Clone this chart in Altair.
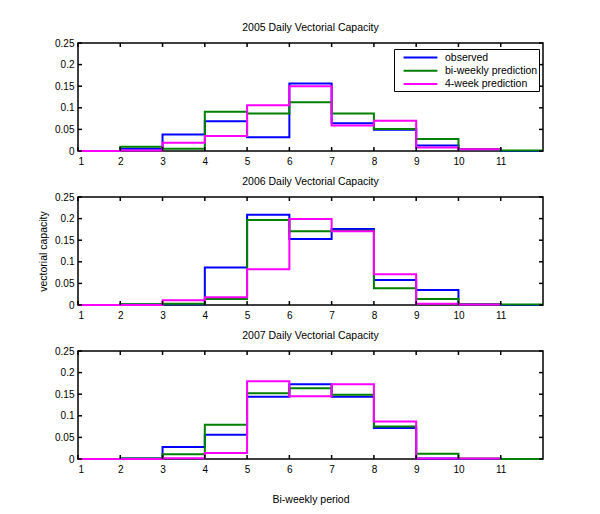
import altair as alt
import pandas as pd

FONT = "Liberation Sans"
series_names = ["observed", "bi-weekly prediction", "4-week prediction"]
series_colors = ["#0000ff", "#008000", "#ff00ff"]
x_ticks = [1, 2, 3, 4, 5, 6, 7, 8, 9, 10, 11]
y_ticks = [0, 0.05, 0.1, 0.15, 0.2, 0.25]
years = ["2005", "2006", "2007"]

# values per bi-weekly bin (bin i spans i .. i+1)
obs_2005 = [0.0, 0.005, 0.038, 0.069, 0.032, 0.156, 0.064, 0.049, 0.013, 0.004, 0.0]
bi_2005 = [0.0, 0.010, 0.005, 0.091, 0.087, 0.113, 0.087, 0.051, 0.028, 0.004, 0.001]
four_2005 = [0.0, 0.001, 0.019, 0.035, 0.106, 0.150, 0.059, 0.070, 0.008, 0.004]

obs_2006 = [0.0, 0.001, 0.002, 0.087, 0.209, 0.153, 0.176, 0.058, 0.035, 0.002, 0.0]
bi_2006 = [0.0, 0.002, 0.003, 0.014, 0.197, 0.171, 0.172, 0.039, 0.014, 0.002, 0.001]
four_2006 = [0.0, 0.0, 0.011, 0.018, 0.083, 0.199, 0.171, 0.071, 0.003, 0.001]

obs_2007 = [0.0, 0.001, 0.028, 0.056, 0.144, 0.173, 0.144, 0.072, 0.001, 0.0, 0.0]
bi_2007 = [0.0, 0.001, 0.011, 0.079, 0.152, 0.164, 0.149, 0.075, 0.012, 0.001, 0.0]
four_2007 = [0.0, 0.0, 0.002, 0.014, 0.180, 0.145, 0.173, 0.087, 0.001, 0.001]

W, H = 465, 108


def stair_frame(values_by_series):
    rows = []
    for name, vals in zip(series_names, values_by_series):
        for i, v in enumerate(vals):
            rows.append({"series": name, "x": i + 1, "y": v})
        rows.append({"series": name, "x": len(vals) + 1, "y": vals[-1]})
    return pd.DataFrame(rows)


color_scale = alt.Scale(domain=series_names, range=series_colors)


def panel(year, values, show_legend=False, y_title=False, x_title=False):
    df = stair_frame(values)
    xaxis_kw = dict(values=x_ticks, labelPadding=5)
    if x_title:
        xaxis_kw["title"] = "Bi-weekly period"
        xaxis_kw["titlePadding"] = 20
    else:
        xaxis_kw["title"] = None
    yaxis_kw = dict(values=y_ticks, format="~g", labelPadding=4)
    if y_title:
        yaxis_kw["title"] = "vectorial capacity"
        yaxis_kw["titlePadding"] = 6
    else:
        yaxis_kw["title"] = None
    xenc = alt.X("x:Q", scale=alt.Scale(domain=[1, 12], nice=False, zero=False),
                 axis=alt.Axis(**xaxis_kw))
    yenc = alt.Y("y:Q", scale=alt.Scale(domain=[0, 0.25], nice=False),
                 axis=alt.Axis(**yaxis_kw))
    if show_legend:
        leg = alt.Legend(orient="none", legendX=316, legendY=6, title=None,
                         strokeColor="black", fillColor="white", padding=1,
                         cornerRadius=0, symbolType="M-2.6,0L2.6,0",
                         symbolSize=169, symbolStrokeWidth=2,
                         labelFont=FONT, labelFontSize=10.5, rowPadding=0.3,
                         symbolOffset=18, labelOffset=17)
    else:
        leg = None
    layers = []
    for s in series_names:
        layers.append(
            alt.Chart(df[df.series == s]).mark_line(
                interpolate="step-after", strokeWidth=2
            ).encode(x=xenc, y=yenc,
                     color=alt.Color("series:N", scale=color_scale, legend=leg))
        )
    xt = pd.DataFrame({"x": x_ticks})
    yt = pd.DataFrame({"y": y_ticks})
    tick = dict(color="black", strokeWidth=1.5)
    layers.append(alt.Chart(xt).mark_rule(**tick).encode(x=xenc, y=alt.value(0), y2=alt.value(4)))
    layers.append(alt.Chart(xt).mark_rule(**tick).encode(x=xenc, y=alt.value(H), y2=alt.value(H - 4)))
    layers.append(alt.Chart(yt).mark_rule(**tick).encode(y=yenc, x=alt.value(0), x2=alt.value(4)))
    layers.append(alt.Chart(yt).mark_rule(**tick).encode(y=yenc, x=alt.value(W), x2=alt.value(W - 4)))
    return alt.layer(*layers).properties(
        width=W, height=H,
        title=alt.TitleParams(year + " Daily Vectorial Capacity", font=FONT,
                              fontSize=10.5, fontWeight="normal", offset=5,
                              color="black"),
    )


p1 = panel("2005", [obs_2005, bi_2005, four_2005], show_legend=True)
p2 = panel("2006", [obs_2006, bi_2006, four_2006], y_title=True)
p3 = panel("2007", [obs_2007, bi_2007, four_2007], x_title=True)

chart = alt.vconcat(p1, p2, p3, spacing=46, bounds="flush").resolve_legend(
    color="independent"
).properties(
    padding={"left": 29, "top": 13, "right": 5, "bottom": 5},
    background="white",
).configure_view(stroke="black", strokeWidth=1.5).configure_axis(
    domain=False, ticks=False, grid=False, labelFont=FONT, labelFontSize=10,
    labelColor="black", titleFont=FONT, titleFontSize=10.5,
    titleFontWeight="normal", titleColor="black"
)

chart.save("out.html", embed_options={"renderer": "svg", "actions": False})
